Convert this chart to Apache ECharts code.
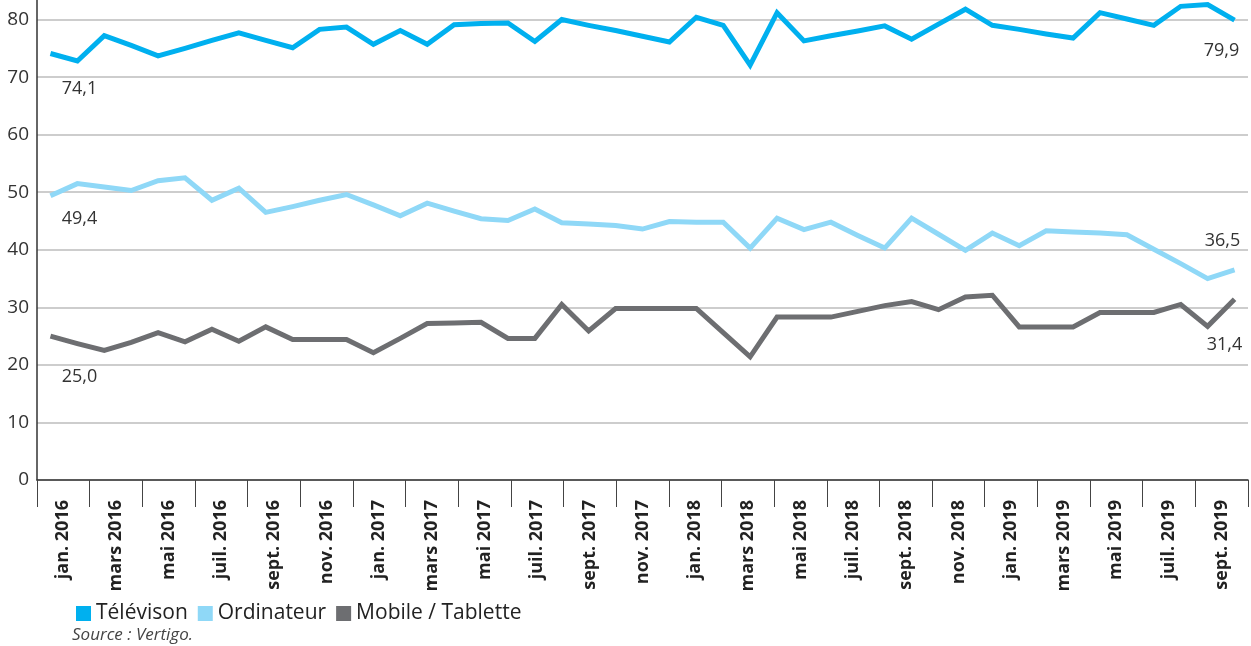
<!DOCTYPE html>
<html>
<head>
<meta charset="utf-8">
<script src="https://cdn.jsdelivr.net/npm/echarts@6/dist/echarts.min.js"></script>
<style>
    html, body { margin: 0; padding: 0; background: #fff; }
    #chart { width: 1251px; height: 646px; }
</style>
</head>
<body>
<div id="chart"></div>
<script>
// months, jan. 2016 -> sept. 2019
const months = [
    'jan. 2016', 'févr. 2016', 'mars 2016', 'avr. 2016', 'mai 2016', 'juin 2016',
    'juil. 2016', 'août 2016', 'sept. 2016', 'oct. 2016', 'nov. 2016', 'déc. 2016',
    'jan. 2017', 'févr. 2017', 'mars 2017', 'avr. 2017', 'mai 2017', 'juin 2017',
    'juil. 2017', 'août 2017', 'sept. 2017', 'oct. 2017', 'nov. 2017', 'déc. 2017',
    'jan. 2018', 'févr. 2018', 'mars 2018', 'avr. 2018', 'mai 2018', 'juin 2018',
    'juil. 2018', 'août 2018', 'sept. 2018', 'oct. 2018', 'nov. 2018', 'déc. 2018',
    'jan. 2019', 'févr. 2019', 'mars 2019', 'avr. 2019', 'mai 2019', 'juin 2019',
    'juil. 2019', 'août 2019', 'sept. 2019'
]

// labels shown under the axis, one per 2-month band
const tickLabels = [
    'jan. 2016', 'mars 2016', 'mai 2016', 'juil. 2016', 'sept. 2016', 'nov. 2016',
    'jan. 2017', 'mars 2017', 'mai 2017', 'juil. 2017', 'sept. 2017', 'nov. 2017',
    'jan. 2018', 'mars 2018', 'mai 2018', 'juil. 2018', 'sept. 2018', 'nov. 2018',
    'jan. 2019', 'mars 2019', 'mai 2019', 'juil. 2019', 'sept. 2019'
]

const television = [
    74.1, 72.8, 77.2, 75.5, 73.7, 75.0, 76.4, 77.7, 76.4, 75.1, 78.3, 78.7,
    75.7, 78.1, 75.7, 79.1, 79.3, 79.4, 76.2, 80.0, 79.0, 78.1, 77.1, 76.1,
    80.4, 79.0, 72.1, 81.2, 76.3, 77.2, 78.0, 78.9, 76.6, 79.2, 81.8, 79.0,
    78.3, 77.5, 76.8, 81.2, 80.1, 79.0, 82.3, 82.6, 79.9
]

const ordinateur = [
    49.4, 51.5, 50.9, 50.3, 52.0, 52.5, 48.6, 50.7, 46.5, 47.5, 48.6, 49.6,
    47.8, 45.9, 48.1, 46.7, 45.4, 45.1, 47.1, 44.7, 44.5, 44.2, 43.6, 44.9,
    44.8, 44.8, 40.3, 45.5, 43.5, 44.8, 42.5, 40.3, 45.5, 42.7, 39.9, 42.9,
    40.7, 43.3, 43.1, 42.9, 42.6, 40.1, 37.6, 35.0, 36.5
]

const mobile = [
    25.0, 23.7, 22.5, 23.9, 25.6, 24.0, 26.2, 24.1, 26.6, 24.4, 24.4, 24.4,
    22.1, 24.6, 27.2, 27.3, 27.4, 24.6, 24.6, 30.5, 25.9, 29.8, 29.8, 29.8,
    29.8, 25.6, 21.4, 28.3, 28.3, 28.3, 29.3, 30.3, 31.0, 29.6, 31.8, 32.1,
    26.6, 26.6, 26.6, 29.1, 29.1, 29.1, 30.5, 26.7, 31.4
]

const FONT = "'Open Sans', sans-serif"

function fmt(v) {
    return v.toFixed(1).replace('.', ',')
}

// values as data items, with a label on the first and last point
function withEndLabels(values, firstOffset, lastOffset) {
    return values.map((v, i) => {
        if (i === 0 || i === values.length - 1) {
            return {
                value: v,
                label: {
                    show: true,
                    position: 'inside',
                    offset: i === 0 ? firstOffset : lastOffset,
                    formatter: p => fmt(p.value),
                    fontFamily: FONT,
                    fontSize: 18,
                    color: '#333'
                }
            }
        }
        return v
    })
}

function lineSeries(name, color, values, firstOffset, lastOffset) {
    return {
        name: name,
        type: 'line',
        xAxisIndex: 0,
        data: withEndLabels(values, firstOffset, lastOffset),
        symbol: 'circle',
        symbolSize: 0,
        showSymbol: true,
        clip: false,
        lineStyle: { color: color, width: 5, join: 'miter' },
        itemStyle: { color: color },
        emphasis: { disabled: true },
        animation: false
    }
}

const chart = echarts.init(document.getElementById('chart'))

chart.setOption({
    animation: false,
    textStyle: { fontFamily: FONT },
    grid: {
        left: 37,
        right: 3,
        top: 0,
        bottom: 166
    },
    legend: {
        left: 71,
        top: 598,
        itemWidth: 15,
        itemHeight: 15,
        itemGap: 10,
        icon: 'rect',
        textStyle: { fontFamily: FONT, fontSize: 21, color: '#222' },
        data: ['Télévison', 'Ordinateur', 'Mobile / Tablette']
    },
    graphic: [
        {
            type: 'text',
            left: 72,
            top: 627,
            style: {
                text: 'Source : Vertigo.',
                fontFamily: FONT,
                fontStyle: 'italic',
                fontSize: 17,
                fill: '#444'
            }
        }
    ],
    xAxis: [
        {
            type: 'category',
            data: months,
            boundaryGap: true,
            axisLine: { show: false },
            axisTick: { show: false },
            axisLabel: { show: false },
            splitLine: { show: false }
        },
        {
            type: 'category',
            data: tickLabels,
            position: 'bottom',
            boundaryGap: true,
            axisLine: { show: true, lineStyle: { color: '#333', width: 1.5 } },
            axisTick: { show: true, length: 27, lineStyle: { color: '#444', width: 1 } },
            axisLabel: {
                rotate: 90,
                interval: 0,
                margin: 20,
                fontFamily: FONT,
                fontWeight: 'bold',
                fontSize: 18,
                color: '#222'
            },
            splitLine: { show: false }
        }
    ],
    yAxis: {
        type: 'value',
        min: 0,
        max: 83.4,
        interval: 10,
        axisLine: { show: true, lineStyle: { color: '#333', width: 1.5 } },
        axisTick: { show: false },
        axisLabel: {
            showMaxLabel: false,
            margin: 8,
            fontFamily: FONT,
            fontSize: 19,
            color: '#333'
        },
        splitLine: {
            show: true,
            showMaxLine: false,
            lineStyle: { color: '#bdbdbd', width: 1.5 }
        }
    },
    series: [
        lineSeries('Télévison', '#00b0ef', television, [29, 35], [-13, 31]),
        lineSeries('Ordinateur', '#8fd8f7', ordinateur, [29, 23], [-12, -29]),
        lineSeries('Mobile / Tablette', '#6d6e71', mobile, [29, 41], [-10, 46])
    ]
})
</script>
</body>
</html>
